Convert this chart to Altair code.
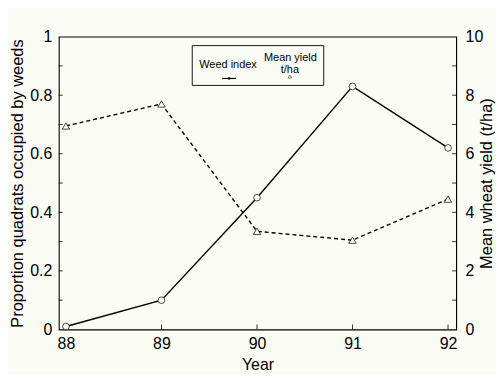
import altair as alt
import pandas as pd

years = [88, 89, 90, 91, 92]
weed_index = [0.01, 0.10, 0.45, 0.83, 0.62]
mean_yield = [6.95, 7.70, 3.35, 3.05, 4.45]
left_ticks = [0.1, 0.2, 0.3, 0.4, 0.5, 0.6, 0.7, 0.8, 0.9]
right_ticks = [1, 2, 3, 4, 5, 6, 7, 8, 9]
left_labels = [0, 0.2, 0.4, 0.6, 0.8, 1]
right_labels = [0, 2, 4, 6, 8, 10]

W, H = 399, 294
FONT = "Liberation Sans"

df = pd.DataFrame({"year": years, "weed": weed_index, "yld": mean_yield})
lt = pd.DataFrame({"v": left_ticks})
rt = pd.DataFrame({"v": right_ticks})
xt = pd.DataFrame({"year": years})
one = pd.DataFrame({"a": [0]})

xscale = alt.Scale(domain=[87.925, 92.085], nice=False, zero=False)
xaxis = alt.Axis(values=years, format="d", ticks=False, domain=False, grid=False,
                 labelFontSize=16, labelPadding=6, labelColor="black",
                 title="Year", titleFontSize=16, titleFontWeight="normal",
                 titlePadding=5, titleColor="black", labelFont=FONT, titleFont=FONT)
x_enc = alt.X("year:Q", scale=xscale, axis=xaxis)

lscale = alt.Scale(domain=[0, 1], nice=False, zero=False)
rscale = alt.Scale(domain=[0, 10], nice=False, zero=False)

laxis = alt.Axis(values=left_labels, format="~g", ticks=False, domain=False, grid=False,
                 labelFontSize=16, labelPadding=7, labelColor="black", labelFont=FONT,
                 title="Proportion quadrats occupied by weeds", titleFontSize=16.5,
                 titleFontWeight="normal", titleColor="black", titleFont=FONT,
                 titleX=-36, titleY=H / 2, titleAngle=-90, titleAlign="center",
                 titleBaseline="alphabetic")
raxis = alt.Axis(values=right_labels, format="d", ticks=False, domain=False, grid=False,
                 orient="right",
                 labelFontSize=16, labelPadding=9, labelColor="black", labelFont=FONT,
                 title="Mean wheat yield (t/ha)", titleFontSize=16.5,
                 titleFontWeight="normal", titleColor="black", titleFont=FONT,
                 titleX=35, titleY=H / 2, titleAngle=-90, titleAlign="center",
                 titleBaseline="alphabetic")

weed_line = alt.Chart(df).mark_line(color="black", strokeWidth=1.4).encode(
    x=x_enc, y=alt.Y("weed:Q", scale=lscale, axis=laxis))
weed_pts = alt.Chart(df).mark_point(shape="circle", filled=False, color="black",
                                    size=45, strokeWidth=0.7, fill="#fcfcf6", fillOpacity=1).encode(
    x=alt.X("year:Q", scale=xscale), y=alt.Y("weed:Q", scale=lscale))
lticks = alt.Chart(lt).mark_rule(color="black", strokeWidth=0.8).encode(
    x=alt.value(0), x2=alt.value(4), y=alt.Y("v:Q", scale=lscale))
xticks = alt.Chart(xt).mark_rule(color="black", strokeWidth=0.8).encode(
    x=alt.X("year:Q", scale=xscale), y=alt.value(H - 5), y2=alt.value(H))

left = alt.layer(weed_line, lticks, xticks, weed_pts)

yld_line = alt.Chart(df).mark_line(color="black", strokeWidth=1.4, strokeDash=[4, 3]).encode(
    x=alt.X("year:Q", scale=xscale), y=alt.Y("yld:Q", scale=rscale, axis=raxis))
yld_pts = alt.Chart(df).mark_point(shape="triangle-up", filled=False, color="black",
                                   size=55, strokeWidth=0.7, fill="#fcfcf6", fillOpacity=1).encode(
    x=alt.X("year:Q", scale=xscale), y=alt.Y("yld:Q", scale=rscale))
rticks = alt.Chart(rt).mark_rule(color="black", strokeWidth=0.8).encode(
    x=alt.value(W - 4), x2=alt.value(W), y=alt.Y("v:Q", scale=rscale))

right = alt.layer(yld_line, rticks, yld_pts)

# hand-drawn legend box
box = alt.Chart(one).mark_rect(fill="#fcfcf6", stroke="black", strokeWidth=0.9).encode(
    x=alt.value(134), x2=alt.value(266), y=alt.value(9), y2=alt.value(49))
t1 = alt.Chart(one).mark_text(align="left", baseline="alphabetic", fontSize=11, font=FONT,
                              color="black").encode(
    x=alt.value(141), y=alt.value(31), text=alt.value("Weed index"))
t2 = alt.Chart(one).mark_text(align="left", baseline="alphabetic", fontSize=11, font=FONT,
                              color="black").encode(
    x=alt.value(206), y=alt.value(24), text=alt.value("Mean yield"))
t3 = alt.Chart(one).mark_text(align="center", baseline="alphabetic", fontSize=11, font=FONT,
                              color="black").encode(
    x=alt.value(232), y=alt.value(37), text=alt.value("t/ha"))
lg1 = alt.Chart(one).mark_rule(color="black", strokeWidth=1.2).encode(
    x=alt.value(164), x2=alt.value(178), y=alt.value(42))
lg1p = alt.Chart(one).mark_point(shape="circle", filled=True, color="black", size=8).encode(
    x=alt.value(171), y=alt.value(42))
lg2p = alt.Chart(one).mark_point(shape="triangle-up", filled=False, color="black", size=14,
                                 strokeWidth=0.7).encode(
    x=alt.value(232), y=alt.value(40))
legend = alt.layer(box, t1, t2, t3, lg1, lg1p, lg2p)

chart = alt.layer(left, right, legend).resolve_scale(y="independent").properties(
    width=W, height=H,
    autosize=alt.AutoSizeParams(type="none"),
    padding={"left": 51, "top": 28, "right": 40, "bottom": 45},
    background="#fcfcf6",
).configure_view(stroke="black", strokeWidth=1.1)

chart.save("out.html", embed_options={"renderer": "svg", "actions": False})
